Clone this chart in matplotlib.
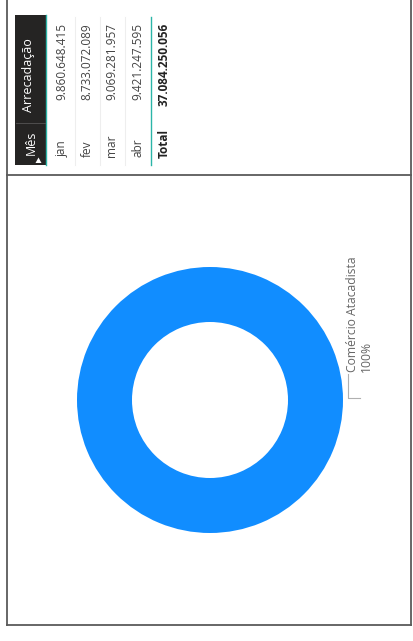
import matplotlib
matplotlib.use("Agg")
import matplotlib.pyplot as plt
from matplotlib.patches import Rectangle, Polygon

plt.rcParams['font.family'] = ['Open Sans', 'DejaVu Sans']

# ---- data ----
months = ['jan', 'fev', 'mar', 'abr']
arrecadacao = [9860648415, 8733072089, 9069281957, 9421247595]
col_headers = ['Mês', 'Arrecadação']
total_label = 'Total'
categories = ['Comércio Atacadista']
cat_values = [100]

def fmt(v):
    return f"{v:,}".replace(",", ".")

W, H = 413, 641
fig = plt.figure(figsize=(W / 100, H / 100), dpi=100)

# overlay axes in pixel coordinates
ov = fig.add_axes([0, 0, 1, 1])
ov.set_xlim(0, W)
ov.set_ylim(H, 0)
ov.axis('off')

# frame lines
border = '#5a5a5a'
ov.plot([7, 7], [0, 625], color=border, lw=1.3)
ov.plot([411, 411], [0, 625], color=border, lw=1.3)
ov.plot([7, 411], [175, 175], color=border, lw=1.3)
ov.plot([7, 411], [625, 625], color=border, lw=1.3)

# table header
ov.add_patch(Rectangle((15, 15), 31, 150, color='#252423', lw=0))
ov.plot([46, 46], [15, 165], color='#2bb5a8', lw=1.0)
ov.plot([16, 45], [123, 123], color='#555555', lw=0.6)
ov.text(31, 155, col_headers[0], rotation=90, rotation_mode='anchor',
        ha='left', va='center', color='white', fontsize=9)
ov.add_patch(Polygon([[35.5, 163], [41.5, 163], [38.5, 157.5]], closed=True,
                     color='white', lw=0))
ov.text(29, 38, col_headers[1], rotation=90, rotation_mode='anchor',
        ha='right', va='center', color='white', fontsize=9)

# rows
row_x = [62, 87, 112, 138]
for i, (m, v) in enumerate(zip(months, arrecadacao)):
    x = row_x[i]
    ov.text(x, 157, m, rotation=90, rotation_mode='anchor',
            ha='left', va='center', color='#444444', fontsize=8.5)
    ov.text(x, 23, fmt(v), rotation=90, rotation_mode='anchor',
            ha='right', va='center', color='#444444', fontsize=8.5)
    if i < len(months) - 1:
        sep = (row_x[i] + row_x[i + 1]) / 2
        ov.plot([sep, sep], [17, 165], color='#eeeeee', lw=0.8)

# total row
ov.plot([151, 151], [17, 165], color='#2bb5a8', lw=1.0)
ov.text(164, 158, total_label, rotation=90, rotation_mode='anchor',
        ha='left', va='center', color='#222222', fontsize=8.5, fontweight='bold')
ov.text(164, 23, fmt(sum(arrecadacao)), rotation=90, rotation_mode='anchor',
        ha='right', va='center', color='#222222', fontsize=8.5, fontweight='bold')

# donut
cx, cy, r = 210, 400, 133
ax = fig.add_axes([(cx - r) / W, 1 - (cy + r) / H, 2 * r / W, 2 * r / H])
ax.pie(cat_values, colors=['#118DFF'], startangle=90,
       wedgeprops=dict(width=1 - 78 / 133, edgecolor='none'))
ax.set_xlim(-1, 1)
ax.set_ylim(-1, 1)
ax.set_aspect('auto')
ax.axis('off')

# label with leader line
ov.plot([348, 348, 360], [374, 398, 398], color='#b0b0b0', lw=0.8)
ov.text(353, 372, categories[0], rotation=90, rotation_mode='anchor',
        ha='left', va='center', color='#666666', fontsize=8.7)
ov.text(366, 372, f"{cat_values[0]}%", rotation=90, rotation_mode='anchor',
        ha='left', va='center', color='#666666', fontsize=8.7)

fig.savefig('out.png', dpi=100)
